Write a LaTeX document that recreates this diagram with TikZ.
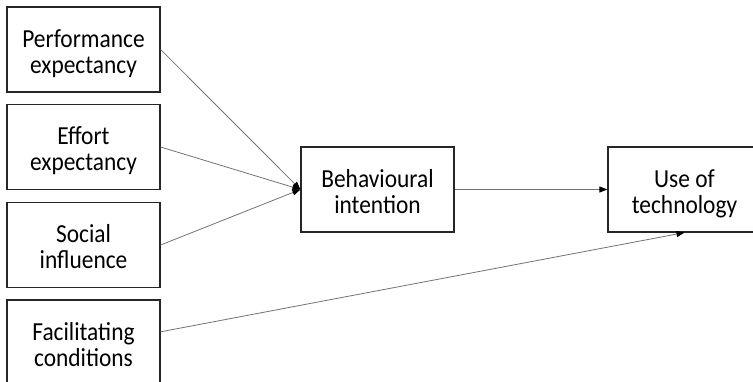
\documentclass[tikz,border=0pt]{standalone}
\usepackage{fontspec}
\setmainfont{Carlito}
\usetikzlibrary{arrows.meta,calc}

% two-line label, slightly narrowed and set a little below the box centre
\newcommand{\boxtext}[2]{\raisebox{-5.5pt}[\height][\depth]{\scalebox{0.9}[1]{%
  \begin{tabular}{@{}c@{}}#1\\#2\end{tabular}}}}

\tikzset{
  construct/.style={draw=black!85, line width=1.2pt, fill=white,
    minimum width=153pt, minimum height=85pt,
    font=\fontsize{26}{26}\selectfont, inner sep=0pt},
  conn/.style={draw=black!55, line width=0.8pt,
    -{Triangle[length=8pt,width=6pt,color=black,fill=black]}}
}

\begin{document}
\begin{tikzpicture}[x=1pt,y=1pt]
  \useasboundingbox (0,0) rectangle (753,-382);

  % determinants
  \node[construct] (pe) at (83.5,-49.5)  {\boxtext{Performance}{expectancy}};
  \node[construct] (ee) at (83.5,-147)   {\boxtext{Effort}{expectancy}};
  \node[construct] (si) at (83.5,-245)   {\boxtext{Social}{influence}};
  \node[construct] (fc) at (83.5,-342.5) {\boxtext{Facilitating}{conditions}};

  % intention and behaviour
  \node[construct] (bi)  at (377.5,-189.5) {\boxtext{Behavioural}{intention}};
  \node[construct] (use) at (684.5,-189.5) {\boxtext{Use of}{technology}};

  % paths
  \draw[conn] (pe.east) -- (bi.west);
  \draw[conn] (ee.east) -- (bi.west);
  \draw[conn] (si.east) -- (bi.west);
  \draw[conn] (bi.east) -- (use.west);
  \draw[conn] ($(fc.north east)!0.376!(fc.south east)$) -- (use.south);
\end{tikzpicture}
\end{document}
